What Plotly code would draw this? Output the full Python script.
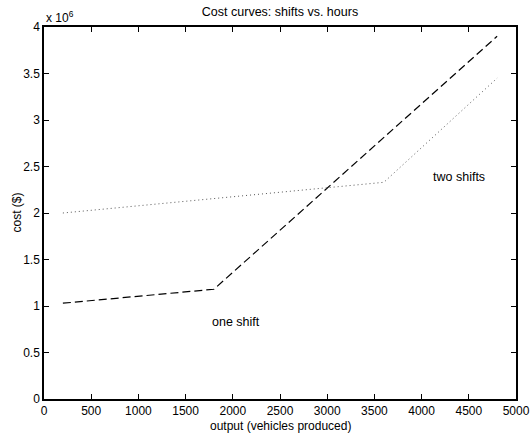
import plotly.graph_objects as go

# Data
one_shift_x = [200, 1800, 4800]
one_shift_cost = [1.03e6, 1.18e6, 3.90e6]
two_shift_x = [200, 3600, 4800]
two_shift_cost = [2.00e6, 2.33e6, 3.45e6]

x_ticks = [0, 500, 1000, 1500, 2000, 2500, 3000, 3500, 4000, 4500, 5000]
y_tickvals = [0, 0.5e6, 1e6, 1.5e6, 2e6, 2.5e6, 3e6, 3.5e6, 4e6]
y_ticktext = ["0", "0.5", "1", "1.5", "2", "2.5", "3", "3.5", "4"]

FONT = "Liberation Sans, Arial, Helvetica, sans-serif"
FS = 12
W, H = 530, 437
L, R, T, B = 44, 14, 27, 38
PW, PH = W - L - R, H - T - B

fig = go.Figure()
fig.add_trace(go.Scatter(x=one_shift_x, y=one_shift_cost, mode="lines",
                         line=dict(color="black", width=1.2, dash="8px,4px"),
                         showlegend=False, hoverinfo="skip"))
fig.add_trace(go.Scatter(x=two_shift_x, y=two_shift_cost, mode="lines",
                         line=dict(color="#555", width=1, dash="1px,3px"),
                         showlegend=False, hoverinfo="skip"))

fig.add_annotation(x=1760, y=0.825e6, text="one shift", showarrow=False,
                   xanchor="left", yanchor="middle",
                   font=dict(family=FONT, size=12.5, color="black"))
fig.add_annotation(x=4100, y=2.39e6, text="two shifts", showarrow=False,
                   xanchor="left", yanchor="middle",
                   font=dict(family=FONT, size=12.5, color="black"))
fig.add_annotation(x=0, y=1, xref="paper", yref="paper", text="x 10<sup>6</sup>",
                   showarrow=False, xanchor="left", yanchor="bottom", yshift=0,
                   font=dict(family=FONT, size=FS, color="black"))
# axis titles
fig.add_annotation(x=(280 - L) / PW, y=-(425.5 - (H - B)) / PH, xref="paper", yref="paper",
                   text="output (vehicles produced)", showarrow=False,
                   xanchor="center", yanchor="middle",
                   font=dict(family=FONT, size=FS, color="black"))
fig.add_annotation(x=-(L - 16.5) / PW, y=0.5, xref="paper", yref="paper",
                   text="cost ($)", showarrow=False, textangle=-90,
                   xanchor="center", yanchor="middle",
                   font=dict(family=FONT, size=FS, color="black"))

fig.update_layout(
    width=W, height=H,
    margin=dict(l=L, r=R, t=T, b=B),
    paper_bgcolor="white", plot_bgcolor="white",
    font=dict(family=FONT, size=FS, color="black"),
    title=dict(text="Cost curves: shifts vs. hours", x=280 / W, xanchor="center",
               y=1 - 12 / H, yanchor="middle",
               font=dict(family=FONT, size=12.5, color="black")),
    xaxis=dict(range=[0, 5000], tickvals=x_ticks, ticks="inside", ticklen=5,
               tickcolor="black", showline=True, linecolor="black", linewidth=1.5,
               mirror="allticks", showgrid=False, zeroline=False, automargin=False,
               tickfont=dict(family=FONT, size=FS)),
    yaxis=dict(range=[0, 4e6], tickvals=y_tickvals, ticktext=y_ticktext,
               ticks="inside", ticklen=5, tickcolor="black", showline=True,
               linecolor="black", linewidth=1.5, mirror="allticks", showgrid=False,
               zeroline=False, automargin=False,
               tickfont=dict(family=FONT, size=FS)),
)

fig.write_html("out.html")
